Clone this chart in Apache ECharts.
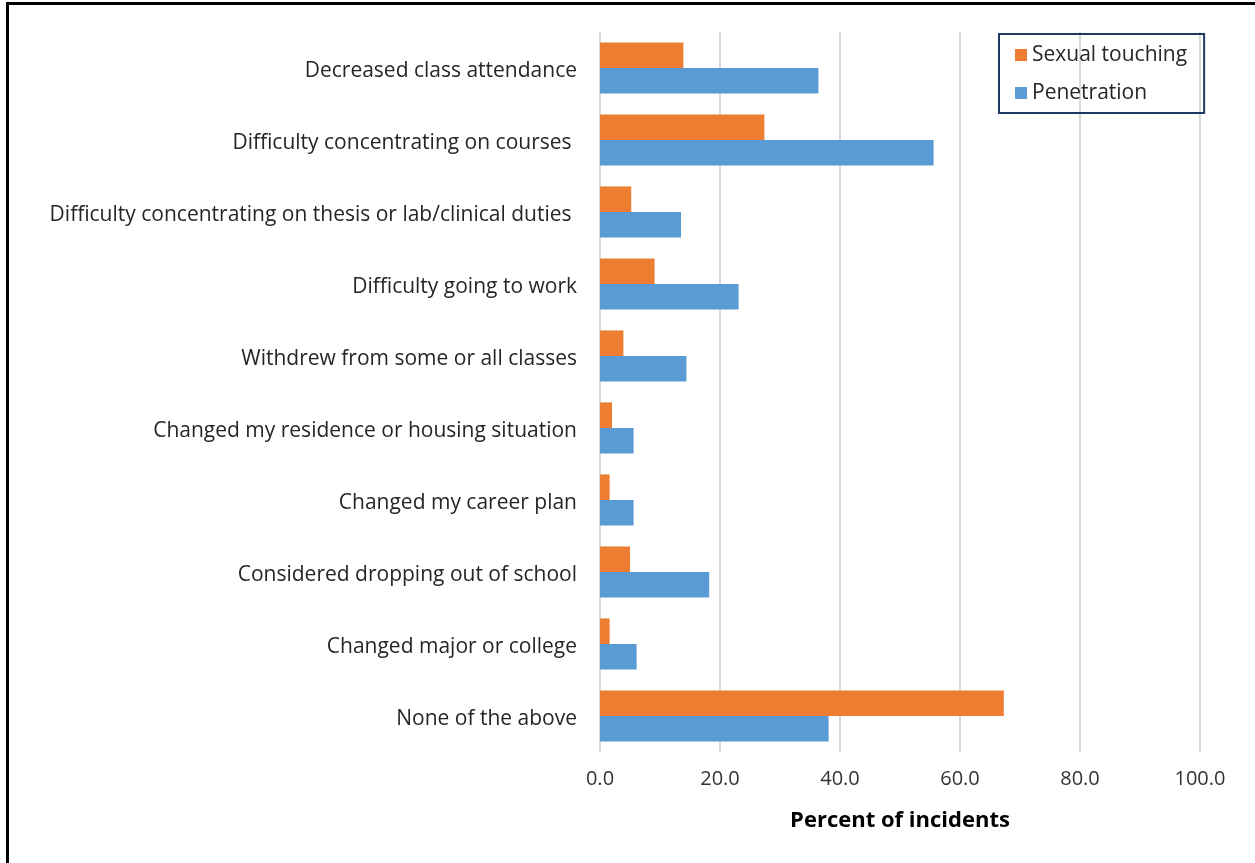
<!DOCTYPE html>
<html>
<head>
<meta charset="utf-8">
<script src="https://cdn.jsdelivr.net/npm/echarts@6/dist/echarts.min.js"></script>
<style>
html,body{margin:0;padding:0;background:#fff;}
#c{width:1255px;height:863px;}
</style>
</head>
<body>
<div id="c"></div>
<script>
const categories = [
  "Decreased class attendance",
  "Difficulty concentrating on courses ",
  "Difficulty concentrating on thesis or lab/clinical duties ",
  "Difficulty going to work",
  "Withdrew from some or all classes",
  "Changed my residence or housing situation",
  "Changed my career plan",
  "Considered dropping out of school",
  "Changed major or college",
  "None of the above"
];
const sexualTouching = [13.9, 27.4, 5.2, 9.1, 3.9, 2.0, 1.6, 5.0, 1.6, 67.3];
const penetration = [36.4, 55.6, 13.5, 23.1, 14.4, 5.6, 5.6, 18.2, 6.1, 38.1];
const xTicks = { min: 0, max: 100, interval: 20 };
const axisTitle = "Percent of incidents";

const FONT = "Open Sans";
const chart = echarts.init(document.getElementById('c'), null, {renderer: 'canvas'});
chart.setOption({
  animation: false,
  backgroundColor: '#fff',
  textStyle: { fontFamily: FONT },
  graphic: [
    { type: 'line', shape: { x1: 6, y1: 3.5, x2: 1255, y2: 3.5 }, style: { stroke: '#000', lineWidth: 3 } },
    { type: 'line', shape: { x1: 7.5, y1: 2, x2: 7.5, y2: 863 }, style: { stroke: '#000', lineWidth: 3 } }
  ],
  legend: {
    orient: 'vertical',
    left: 999,
    top: 34,
    padding: [10, 17, 9, 16],
    borderColor: '#203864',
    borderWidth: 2,
    itemWidth: 12,
    itemHeight: 12,
    itemGap: 16,
    icon: 'rect',
    textStyle: { fontFamily: FONT, fontSize: 21, color: '#262626', lineHeight: 22 },
    data: ['Sexual touching', 'Penetration']
  },
  grid: { left: 600, right: 55, top: 32, bottom: 111, containLabel: false },
  xAxis: {
    type: 'value',
    min: xTicks.min, max: xTicks.max, interval: xTicks.interval,
    name: axisTitle,
    nameLocation: 'middle',
    nameGap: 58,
    nameTextStyle: { fontFamily: FONT, fontSize: 22, fontWeight: 'bold', color: '#000' },
    axisLine: { show: false },
    axisTick: { show: false },
    axisLabel: { formatter: v => v.toFixed(1), fontSize: 20, color: '#333', margin: 17, fontFamily: FONT },
    splitLine: { show: true, lineStyle: { color: '#d9d9d9', width: 2 } }
  },
  yAxis: {
    type: 'category',
    inverse: true,
    data: categories,
    axisLine: { show: false },
    axisTick: { show: false },
    axisLabel: {
      fontSize: 21, color: '#262626', margin: 23, fontFamily: FONT,
      formatter: v => '{a|' + v + '}',
      rich: { a: { fontSize: 21, color: '#262626', fontFamily: FONT, padding: [6, 0, 0, 0] } }
    }
  },
  series: [
    { name: 'Sexual touching', type: 'bar', data: sexualTouching, barGap: '0%', barCategoryGap: '29%',
      itemStyle: { color: '#ED7D31' } },
    { name: 'Penetration', type: 'bar', data: penetration, barGap: '0%', barCategoryGap: '29%',
      itemStyle: { color: '#5B9BD5' } }
  ]
});
</script>
</body>
</html>
